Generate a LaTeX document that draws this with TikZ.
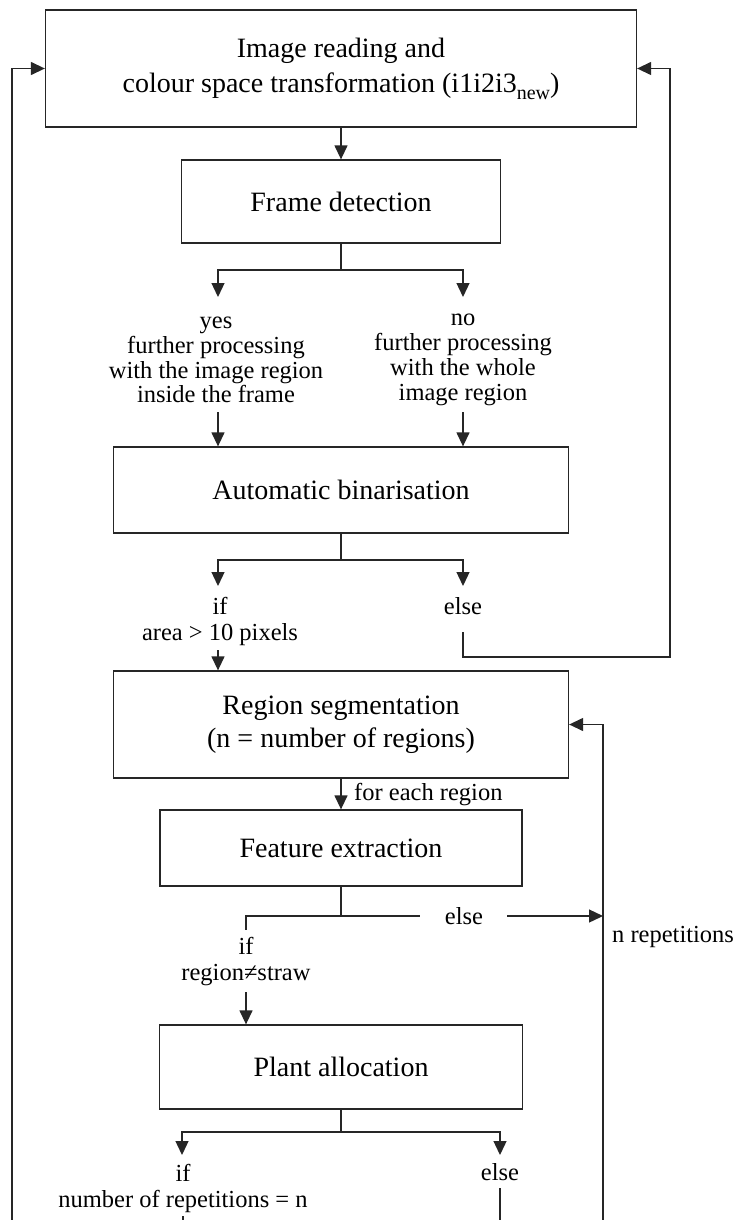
\documentclass[tikz,border=0pt]{standalone}
\usepackage{fontspec}
\setmainfont{Liberation Serif}
\usetikzlibrary{arrows.meta}
\newcommand{\lowidx}[1]{\raisebox{-7pt}{\fontsize{20}{20}\selectfont #1}}
\begin{document}
\begin{tikzpicture}[x=1pt,y=-1pt,
  line/.style={draw=black!85, line width=1.3pt},
  arr/.style={line, -{Triangle[length=14pt,width=13pt]}},
  box/.style={draw=black!85, line width=1.3pt, inner sep=0pt, align=center,
    font=\fontsize{28}{35}\selectfont, text=black},
  lbl/.style={inner sep=0pt, align=center, font=\fontsize{24.5}{24.8}\selectfont, text=black},
  cond/.style={inner sep=0pt, align=center, font=\fontsize{24.5}{26}\selectfont, text=black}]
\useasboundingbox (0,0) rectangle (741,1220);
\clip (0,0) rectangle (741,1220);
\fill[white] (0,0) rectangle (741,1220);

% process boxes
\node[box, minimum width=591pt, minimum height=117pt] (read) at (341,68.5)
  {Image reading and\\colour space transformation (i1i2i3\lowidx{new})};
\node[box, minimum width=319pt, minimum height=83pt] (frame) at (341,201.5) {Frame detection};
\node[box, minimum width=455pt, minimum height=86pt] (bin) at (341,490) {Automatic binarisation};
\node[box, minimum width=455pt, minimum height=107pt, font=\fontsize{28}{33}\selectfont] (seg) at (341,724.5)
  {Region segmentation\\(n = number of regions)};
\node[box, minimum width=362pt, minimum height=76pt] (feat) at (341,848) {Feature extraction};
\node[box, minimum width=363pt, minimum height=84pt] (plant) at (341,1067) {Plant allocation};

% branch labels
\node[lbl] (yes) at (216,360) {yes\\further processing\\with the image region\\inside the frame};
\node[lbl] (no) at (463,360) {no\\further processing\\with the whole\\image region};
\node[cond] (ifarea) at (220,621) {if\\area > 10 pixels};
\node[lbl] (elsebin) at (463,606) {else};
\node[lbl, anchor=west] (each) at (354,795) {for each region};
\node[lbl] (elsefeat) at (464,916) {else};
\node[lbl, anchor=west] (nrep) at (612,937) {n repetitions};
\node[cond] (ifstraw) at (246,962) {if\\region≠straw};
\node[cond] (ifrep) at (183,1188) {if\\number of repetitions = n};
\node[lbl] (elseplant) at (500,1172) {else};

% junction and end points
\coordinate (jf) at (341,270);
\coordinate (yesin) at (218,297);
\coordinate (noin) at (463,297);
\coordinate (yesout) at (218,412);
\coordinate (noout) at (463,412);
\coordinate (jb) at (341,560);
\coordinate (ifin) at (218,586);
\coordinate (elsein) at (463,586);
\coordinate (ifout) at (218,650);
\coordinate (elseout) at (463,632);
\coordinate (loopr) at (670,657);
\coordinate (jx) at (341,916);
\coordinate (strawin) at (246,930);
\coordinate (gapl) at (420,916);
\coordinate (gapr) at (507,916);
\coordinate (repline) at (603,916);
\coordinate (strawout) at (246,992);
\coordinate (jp) at (341,1132);
\coordinate (repin) at (182,1155);
\coordinate (elsepin) at (500,1155);
\coordinate (elsepout) at (500,1188);
\coordinate (repout) at (183,1216);
\coordinate (leftend) at (12,1220);
\coordinate (rightend) at (603,1220);
\coordinate (elsepend) at (500,1220);
\coordinate (repend) at (183,1220);

% main flow
\draw[arr] (read.south) -- (frame.north);
\draw[line] (frame.south) -- (jf);
\draw[arr] (jf) -| (yesin);
\draw[arr] (jf) -| (noin);
\draw[arr] (yesout) -- (yesout |- bin.north);
\draw[arr] (noout) -- (noout |- bin.north);
\draw[line] (bin.south) -- (jb);
\draw[arr] (jb) -| (ifin);
\draw[arr] (jb) -| (elsein);
\draw[arr] (ifout) -- (ifout |- seg.north);
\draw[arr] (elseout) |- (loopr) |- (read.east);
\draw[arr] (seg.south) -- (feat.north);
\draw[line] (feat.south) -- (jx) -| (strawin);
\draw[line] (jx) -- (gapl);
\draw[arr] (gapr) -- (repline);
\draw[arr] (strawout) -- (strawout |- plant.north);
\draw[line] (plant.south) -- (jp);
\draw[arr] (jp) -| (repin);
\draw[arr] (jp) -| (elsepin);
\draw[line] (elsepout) -- (elsepend);
\draw[line] (repout) -- (repend);

% feedback loops
\draw[arr] (leftend) |- (read.west);
\draw[arr] (rightend) |- (seg.east);
\end{tikzpicture}
\end{document}
